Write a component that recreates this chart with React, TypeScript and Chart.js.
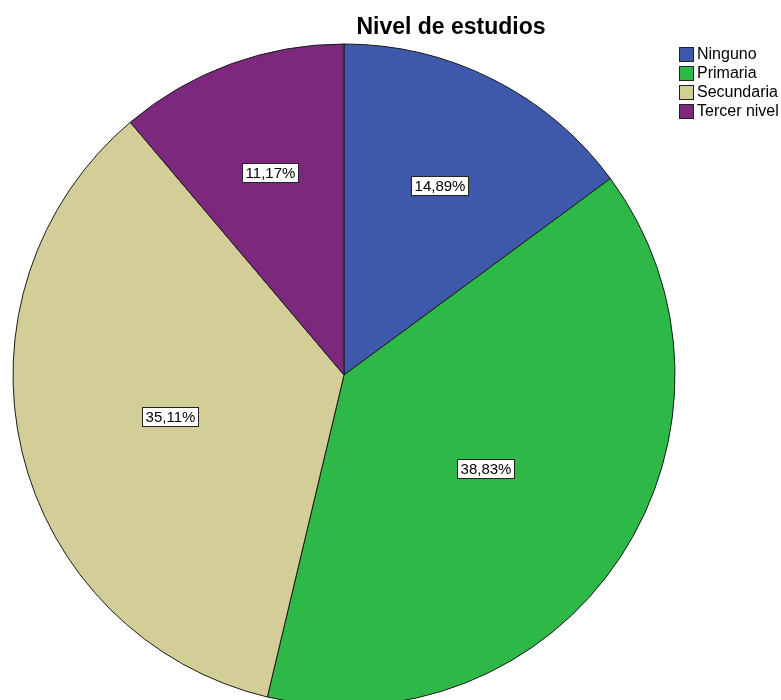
import React, { useEffect, useRef } from "react";
import { Chart, registerables } from "chart.js";

Chart.register(...registerables);

const chartTitle = "Nivel de estudios";
const categories = ["Ninguno", "Primaria", "Secundaria", "Tercer nivel"];
const percentages = [14.89, 38.83, 35.11, 11.17];
const colors = ["#3E58AC", "#2EB848", "#D3CE97", "#7C287D"];

const FONT = "'Liberation Sans', Arial, sans-serif";

const fmt = (v: number) => v.toFixed(2).replace(".", ",") + "%";

const overlayPlugin = {
  id: "spssOverlay",
  afterDatasetsDraw(chart: any) {
    const ctx: CanvasRenderingContext2D = chart.ctx;
    const meta = chart.getDatasetMeta(0);
    const data = chart.data.datasets[0].data as number[];
    ctx.save();
    // percentage labels at sector centroids
    ctx.font = `15px ${FONT}`;
    ctx.textBaseline = "middle";
    ctx.textAlign = "center";
    meta.data.forEach((arc: any, i: number) => {
      const { x, y, startAngle, endAngle, outerRadius } = arc.getProps(
        ["x", "y", "startAngle", "endAngle", "outerRadius"],
        true
      );
      const mid = (startAngle + endAngle) / 2;
      const a = (endAngle - startAngle) / 2;
      const d = (2 * outerRadius * Math.sin(a)) / (3 * a);
      const cx = x + d * Math.cos(mid);
      const cy = y + d * Math.sin(mid);
      const txt = fmt(data[i]);
      const tw = ctx.measureText(txt).width;
      const bw = Math.round(tw + 6);
      const bh = 19;
      const bx = Math.round(cx - bw / 2) + 0.5;
      const by = Math.round(cy - bh / 2) + 0.5;
      ctx.fillStyle = "#ffffff";
      ctx.fillRect(bx, by, bw, bh);
      ctx.strokeStyle = "#222222";
      ctx.lineWidth = 1;
      ctx.strokeRect(bx, by, bw, bh);
      ctx.fillStyle = "#000000";
      ctx.fillText(txt, bx + bw / 2, by + bh / 2 + 1);
    });

    // title
    ctx.font = `bold 23px ${FONT}`;
    ctx.textAlign = "center";
    ctx.textBaseline = "alphabetic";
    ctx.fillStyle = "#000000";
    ctx.fillText(chartTitle, 451, 34);

    // legend
    ctx.font = `16px ${FONT}`;
    ctx.textAlign = "left";
    ctx.textBaseline = "middle";
    categories.forEach((c, i) => {
      const yy = 54 + i * 19;
      ctx.fillStyle = colors[i];
      ctx.fillRect(679.5, yy - 6.5, 14, 14);
      ctx.strokeStyle = "#222222";
      ctx.strokeRect(679.5, yy - 6.5, 14, 14);
      ctx.fillStyle = "#000000";
      ctx.fillText(c, 697, yy + 1);
    });
    ctx.restore();
  },
};

export default function App() {
  const ref = useRef<HTMLCanvasElement | null>(null);
  useEffect(() => {
    if (!ref.current) return;
    const chart = new Chart(ref.current, {
      type: "pie",
      data: {
        labels: categories,
        datasets: [
          {
            data: percentages,
            backgroundColor: colors,
            borderColor: "#1a1a1a",
            borderWidth: 1,
          },
        ],
      },
      options: {
        responsive: false,
        animation: false,
        radius: 331,
        layout: { padding: { left: 0, right: 93, top: 0, bottom: 0 } },
        plugins: {
          legend: { display: false },
          title: { display: false },
          tooltip: { enabled: false },
        },
      } as any,
      plugins: [overlayPlugin],
    });
    return () => chart.destroy();
  }, []);
  return (
    <div
      style={{
        position: "absolute",
        left: 0,
        top: 0,
        width: 781,
        height: 700,
        overflow: "hidden",
        background: "#ffffff",
      }}
    >
      <canvas ref={ref} width={781} height={750} style={{ display: "block" }} />
    </div>
  );
}
